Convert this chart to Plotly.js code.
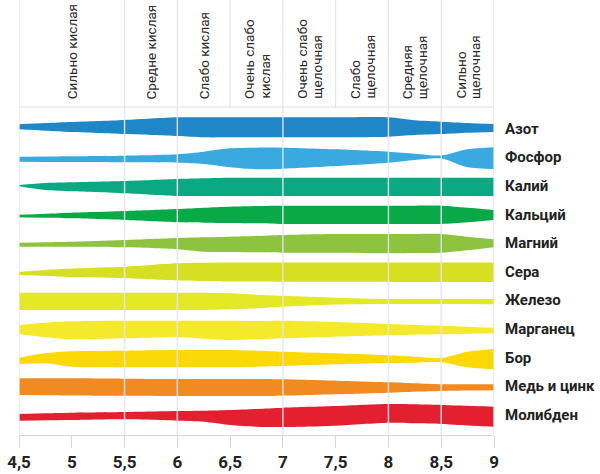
<!DOCTYPE html>
<html><head><meta charset="utf-8">
<script src="https://cdn.plot.ly/plotly-3.0.1.min.js"></script>
<style>html,body{margin:0;padding:0;background:#fff}#chart{width:600px;height:474px}</style>
</head><body><div id="chart"></div>
<script>
// pH sample points
const pH = [4.5, 4.75, 5, 5.5, 6, 6.25, 6.5, 6.75, 7, 7.5, 8, 8.25, 8.5, 8.75, 9];

const elements = ["Азот", "Фосфор", "Калий", "Кальций", "Магний", "Сера", "Железо", "Марганец", "Бор", "Медь и цинк", "Молибден"];
const colors = ["#1f87c8", "#3aa9e0", "#0aa984", "#0aa947", "#8dc33f", "#d7df22", "#e3e827", "#f5e92c", "#fcd804", "#f28a22", "#e42030"];

// availability band: half-thickness above (Up) and below (Lo) the band's axis
const azotUp    = [4.2, 5.5, 6.5, 8.5, 11.2, 11.2, 11.2, 11.2, 11.2, 11.2, 11.2, 8.2, 6.8, 5.5, 4.5];
const azotLo    = [0.8, 2.2, 3.5, 5.5, 7.5, 8.8, 8.8, 8.8, 8.8, 8.8, 8.2, 6.5, 5.5, 4.2, 3.5];
const fosforUp  = [0.4, 0.6, 0.9, 1.4, 2.8, 5.4, 8.8, 9.4, 9.4, 7.8, 5.4, 3.4, 1.6, 7.8, 9.8];
const fosforLo  = [4.6, 4.8, 5.0, 5.2, 5.6, 6.9, 10.2, 12.2, 11.6, 8.9, 5.6, 2.9, 1.4, 10.2, 11.9];
const kaliyUp   = [0.7, 2.7, 3.4, 4.7, 6.7, 7.4, 8.0, 8.0, 8.0, 8.0, 8.0, 8.0, 8.0, 8.0, 8.0];
const kaliyLo   = [0.5, 4.3, 5.6, 7.6, 10.3, 10.3, 10.3, 10.3, 10.3, 10.3, 10.3, 10.3, 10.3, 10.3, 10.3];
const kalciyUp  = [-0.4, 0.6, 1.6, 3.3, 5.3, 6.6, 7.6, 8.3, 8.6, 8.6, 8.6, 8.6, 8.6, 6.6, 4.3];
const kalciyLo  = [3.0, 3.4, 4.0, 5.7, 8.0, 8.4, 8.7, 9.0, 9.7, 9.7, 9.7, 9.7, 9.7, 8.0, 5.7];
const magniyUp  = [0.2, 0.7, 1.2, 2.9, 4.9, 5.6, 6.2, 6.9, 7.9, 8.9, 8.9, 8.9, 8.9, 6.2, 3.6];
const magniyLo  = [3.8, 3.8, 3.8, 4.4, 6.4, 8.8, 9.1, 9.4, 9.8, 9.8, 10.4, 10.0, 9.8, 7.4, 4.4];
const seraUp    = [-0.5, 1.5, 3.0, 4.8, 8.2, 8.7, 9.0, 9.0, 9.0, 9.0, 9.0, 9.0, 9.0, 9.0, 9.0];
const seraLo    = [3.5, 4.5, 5.5, 6.8, 9.0, 9.5, 10.0, 10.0, 10.2, 10.3, 10.4, 10.5, 10.5, 10.5, 10.5];
const zhelezoUp = [7.4, 7.4, 7.4, 7.4, 7.4, 7.4, 6.8, 5.4, 4.3, 2.4, 1.1, 1.1, 1.1, 1.1, 1.1];
const zhelezoLo = [9.9, 9.9, 9.9, 9.9, 9.9, 9.9, 9.2, 8.2, 6.6, 4.4, 3.9, 3.9, 3.9, 4.0, 4.2];
const marganUp  = [3.7, 6.0, 7.4, 8.0, 8.0, 8.0, 8.0, 7.7, 8.0, 6.7, 4.7, 3.8, 3.0, 2.0, 1.0];
const marganLo  = [5.3, 8.6, 10.6, 9.6, 8.6, 10.0, 11.3, 10.6, 9.6, 8.0, 6.6, 6.0, 5.6, 5.0, 4.6];
const borUp     = [-0.4, 4.0, 6.0, 6.6, 7.3, 7.3, 7.3, 6.6, 5.6, 4.0, 2.0, 0.6, -0.7, 5.6, 8.3];
const borLo     = [6.7, 6.0, 9.4, 10.0, 10.0, 10.0, 10.0, 9.4, 8.7, 7.0, 5.7, 5.4, 5.0, 10.0, 12.0];
const medUp     = [7.6, 7.6, 7.6, 7.2, 6.9, 6.9, 6.9, 6.9, 6.6, 5.2, 3.6, 2.6, 1.6, 1.6, 1.6];
const medLo     = [9.1, 9.3, 9.5, 9.8, 10.0, 10.0, 10.1, 10.1, 9.8, 8.4, 6.8, 5.8, 5.1, 4.7, 4.4];
const molibUp   = [0.5, 1.2, 1.8, 2.5, 3.5, 3.8, 4.5, 5.5, 6.8, 8.5, 10.5, 10.2, 9.5, 8.7, 7.8];
const molibLo   = [6.2, 5.8, 5.5, 4.8, 6.2, 7.2, 10.5, 12.2, 12.5, 11.2, 8.2, 8.8, 9.5, 11.0, 12.2];

const upperList = [azotUp, fosforUp, kaliyUp, kalciyUp, magniyUp, seraUp, zhelezoUp, marganUp, borUp, medUp, molibUp];
const lowerList = [azotLo, fosforLo, kaliyLo, kalciyLo, magniyLo, seraLo, zhelezoLo, marganLo, borLo, medLo, molibLo];

// pH scale header
const headerBounds = [4.5, 5.5, 6, 6.5, 7, 7.5, 8, 8.5, 9];
const headerLabels = ["Сильно кислая", "Средне кислая", "Слабо кислая", "Очень слабо<br>кислая", "Очень слабо<br>щелочная", "Слабо<br>щелочная", "Средняя<br>щелочная", "Сильно<br>щелочная"];
const gridVals = [4.5, 5.5, 6, 7, 8, 8.5, 9];
const tickVals = [4.5, 5, 5.5, 6, 6.5, 7, 7.5, 8, 8.5, 9];
const tickText = ["4,5", "5", "5,5", "6", "6,5", "7", "7,5", "8", "8,5", "9"];

// ---- drawing ----
const FONT = "Roboto, 'Liberation Sans', sans-serif";
const SP = 28.6;          // spacing between band axes (y units)
const M = {l: 19, r: 106, t: 107, b: 39};
const plotH = 474 - M.t - M.b;

const traces = [];
const centers = elements.map((_, i) => i * SP);
elements.forEach((name, i) => {
  const c = centers[i];
  traces.push({
    x: pH, y: upperList[i].map(v => c - v), mode: 'lines',
    line: {width: 0, shape: 'spline', smoothing: 0.8, color: colors[i]},
    hoverinfo: 'skip', showlegend: false
  });
  traces.push({
    x: pH, y: lowerList[i].map(v => c + v), mode: 'lines',
    line: {width: 0, shape: 'spline', smoothing: 0.8, color: colors[i]},
    fill: 'tonexty', fillcolor: colors[i], name: name,
    hoverinfo: 'skip', showlegend: false
  });
});

const shapes = [];
gridVals.forEach(v => shapes.push({
  type: 'line', xref: 'x', yref: 'paper', x0: v, x1: v, y0: 0, y1: 1,
  line: {color: 'rgba(226,229,238,0.9)', width: 1.5}, layer: 'above'
}));
const topY = 1 + M.t / plotH;
headerBounds.forEach(v => shapes.push({
  type: 'line', xref: 'x', yref: 'paper', x0: v, x1: v, y0: 1, y1: topY,
  line: {color: '#e0e0e0', width: 1}, layer: 'above'
}));
shapes.push({
  type: 'line', xref: 'x', yref: 'paper', x0: headerBounds[0], x1: headerBounds[headerBounds.length - 1], y0: 1, y1: 1,
  line: {color: '#e0e0e0', width: 1}, layer: 'above'
});

const annotations = [];
headerLabels.forEach((lab, j) => {
  const xc = (headerBounds[j] + headerBounds[j + 1]) / 2;
  const lines = lab.split('<br>');
  lines.forEach((ln, k) => {
    annotations.push({
      x: xc, xref: 'x', y: 1, yref: 'paper', yanchor: 'bottom', xanchor: 'center',
      yshift: 6, xshift: (k - (lines.length - 1) / 2) * 15,
      text: ln, textangle: -90, showarrow: false,
      font: {family: FONT, size: 13.5, color: '#2a2a2a'}
    });
  });
});

const layout = {
  width: 600, height: 474,
  margin: M,
  paper_bgcolor: '#ffffff', plot_bgcolor: '#ffffff',
  showlegend: false,
  xaxis: {
    range: [4.5, 9], tickvals: tickVals, ticktext: tickText,
    ticks: 'outside', ticklen: 12, tickcolor: '#d8d8d8', tickwidth: 1,
    showline: true, linecolor: '#d8d8d8', linewidth: 1,
    showgrid: false, zeroline: false, fixedrange: true,
    tickfont: {family: FONT, size: 17, color: '#222', weight: 'bold'}
  },
  yaxis: {
    range: [centers[centers.length - 1] + 20.5, -21.5],
    side: 'right', tickvals: centers, ticktext: elements,
    ticks: '', showgrid: false, zeroline: false, showline: false,
    ticklabelstandoff: 10, fixedrange: true,
    tickfont: {family: FONT, size: 15, color: '#222', weight: 'bold'}
  },
  shapes: shapes,
  annotations: annotations
};

Plotly.newPlot('chart', traces, layout, {displayModeBar: false, staticPlot: true});
</script>
</body></html>
